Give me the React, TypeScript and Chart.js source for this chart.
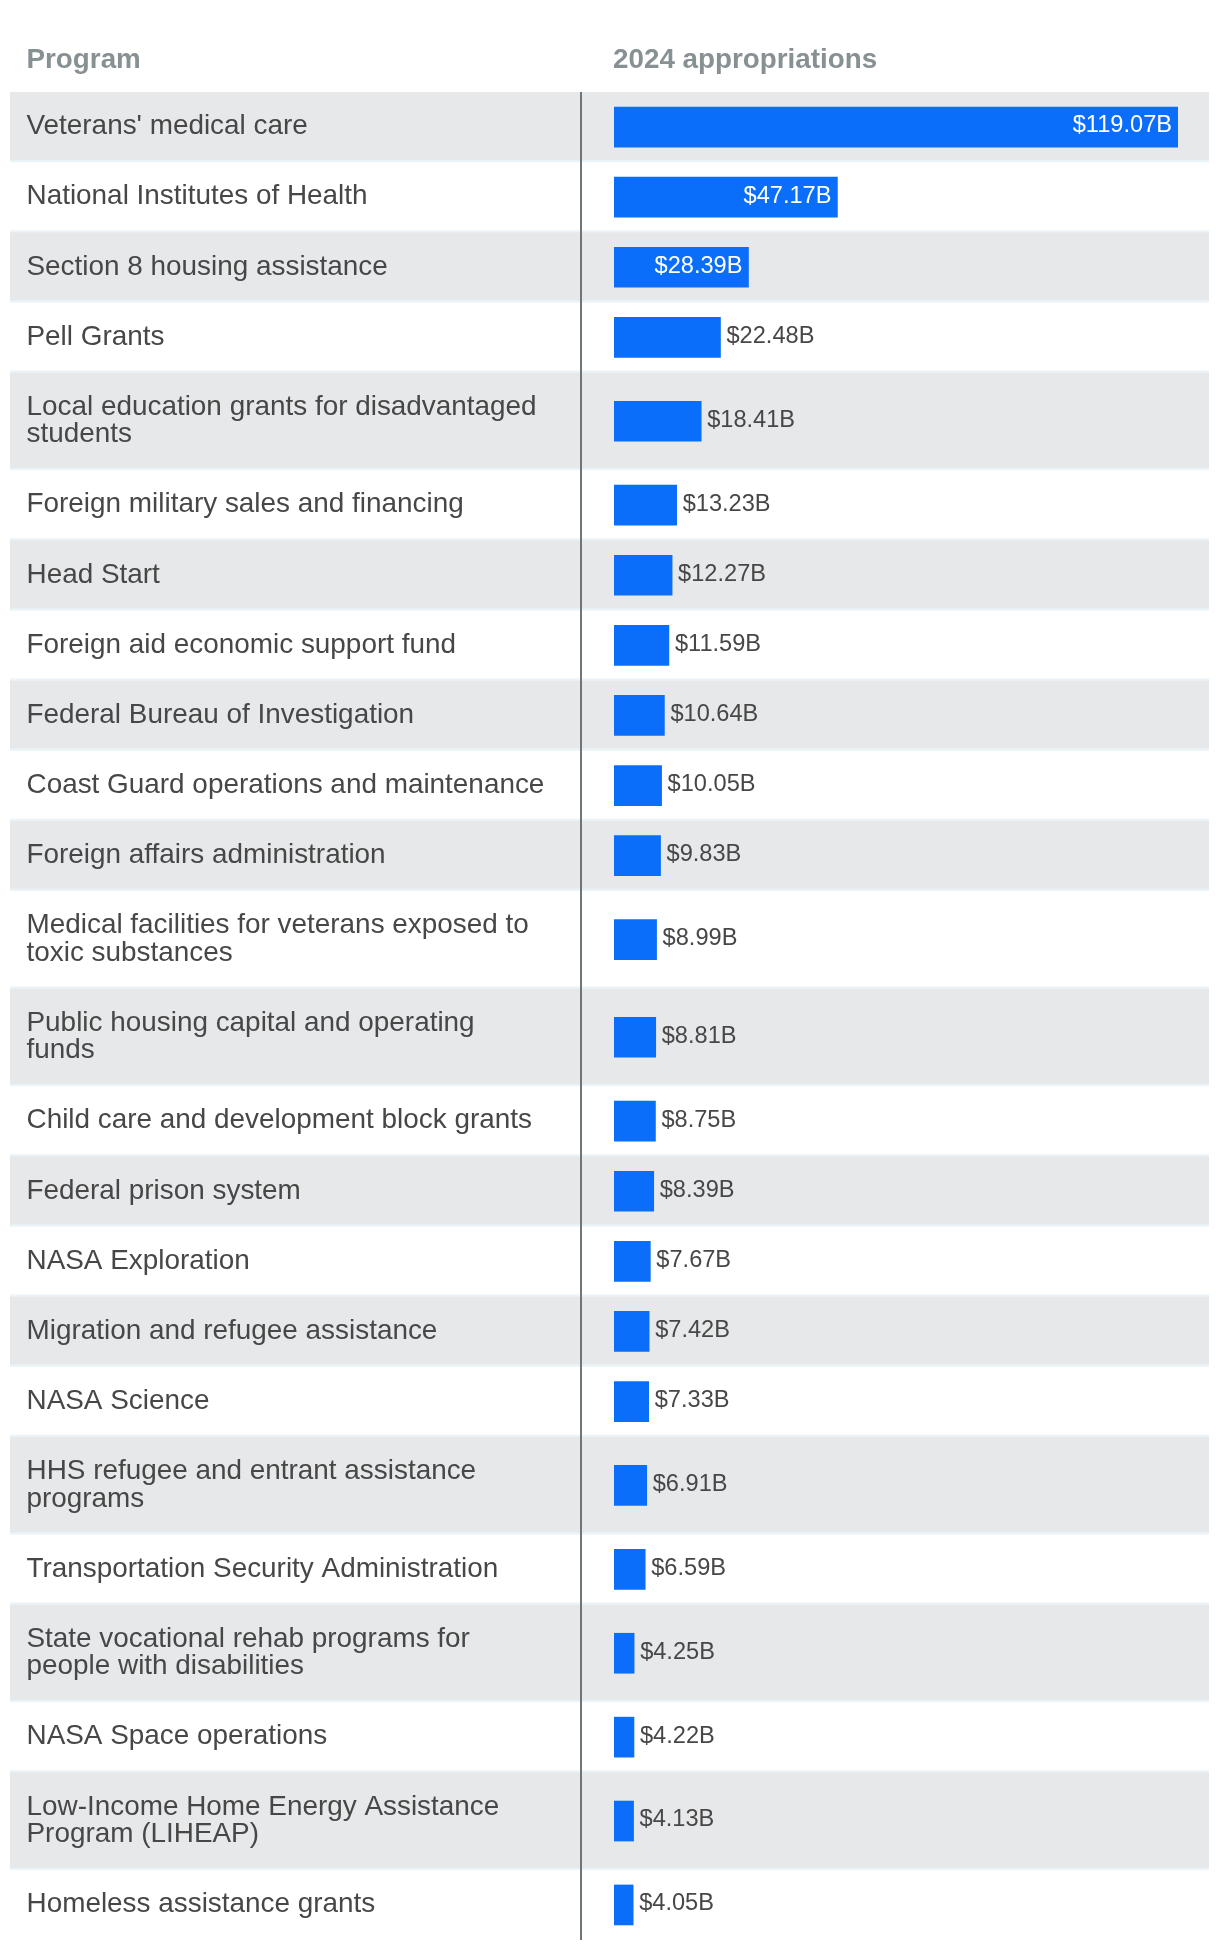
import React, { useEffect, useRef } from "react";
import { Chart, registerables } from "chart.js";

Chart.register(...registerables);

// ---- Data ----
const headerLabels: string[] = ["Program", "2024 appropriations"];

const programs: string[][] = [
  ["Veterans' medical care"],
  ["National Institutes of Health"],
  ["Section 8 housing assistance"],
  ["Pell Grants"],
  ["Local education grants for disadvantaged", "students"],
  ["Foreign military sales and financing"],
  ["Head Start"],
  ["Foreign aid economic support fund"],
  ["Federal Bureau of Investigation"],
  ["Coast Guard operations and maintenance"],
  ["Foreign affairs administration"],
  ["Medical facilities for veterans exposed to", "toxic substances"],
  ["Public housing capital and operating", "funds"],
  ["Child care and development block grants"],
  ["Federal prison system"],
  ["NASA Exploration"],
  ["Migration and refugee assistance"],
  ["NASA Science"],
  ["HHS refugee and entrant assistance", "programs"],
  ["Transportation Security Administration"],
  ["State vocational rehab programs for", "people with disabilities"],
  ["NASA Space operations"],
  ["Low-Income Home Energy Assistance", "Program (LIHEAP)"],
  ["Homeless assistance grants"],
];

const appropriations: number[] = [
  119.07, 47.17, 28.39, 22.48, 18.41, 13.23, 12.27, 11.59, 10.64, 10.05, 9.83,
  8.99, 8.81, 8.75, 8.39, 7.67, 7.42, 7.33, 6.91, 6.59, 4.25, 4.22, 4.13, 4.05,
];

// ---- Layout / style ----
const W = 1220;
const H = 1950;
const TABLE_TOP = 92;
const ROW_PAD = 21.25;
const LINE_H = 27.6;
const FONT = '"Liberation Sans", Arial, Helvetica, sans-serif';
const BAR_COLOR = "#0b6efa";
const ROW_GRAY = "#e7e8ea";
const ROW_BORDER = "#eaf4f9";
const TEXT_COLOR = "#474747";
const HEADER_COLOR = "#879193";
const DIVIDER_COLOR = "#6d7678";

const rowHeights = programs.map((l) => 2 * ROW_PAD + l.length * LINE_H);
const rowTops: number[] = [];
{
  let acc = 0;
  rowHeights.forEach((h) => {
    rowTops.push(acc);
    acc += h;
  });
}
const totalHeight = rowHeights.reduce((a, b) => a + b, 0);
const rowCenters = rowTops.map((t, i) => t + rowHeights[i] / 2);
const maxVal = Math.max(...appropriations);

const fmt = (v: number) => `$${v.toFixed(2)}B`;

const tablePlugin = {
  id: "tablePlugin",
  beforeDatasetsDraw(chart: any) {
    const ctx: CanvasRenderingContext2D = chart.ctx;
    const ys = chart.scales.y;
    ctx.save();
    ctx.textAlign = "left";
    ctx.textBaseline = "alphabetic";
    // header
    ctx.font = `bold 27.8px ${FONT}`;
    ctx.fillStyle = HEADER_COLOR;
    ctx.fillText(headerLabels[0], 26.5, 68);
    ctx.fillText(headerLabels[1], 613, 68);

    const n = programs.length;
    programs.forEach((lines, i) => {
      const top = ys.getPixelForValue(rowTops[i]);
      const bottom = ys.getPixelForValue(rowTops[i] + rowHeights[i]);
      if (i % 2 === 0) {
        ctx.fillStyle = ROW_GRAY;
        ctx.fillRect(10, top, 1199, bottom - top);
      }
      if (i < n - 1) {
        ctx.fillStyle = ROW_BORDER;
        ctx.fillRect(10, bottom - 2, 1199, 2);
      }
      ctx.fillStyle = TEXT_COLOR;
      ctx.font = `27.9px ${FONT}`;
      lines.forEach((ln, j) => {
        ctx.fillText(ln, 26.5, top + 42.3 + j * LINE_H);
      });
    });
    const t0 = ys.getPixelForValue(0);
    const t1 = ys.getPixelForValue(totalHeight);
    ctx.fillStyle = DIVIDER_COLOR;
    ctx.fillRect(580, t0, 2, t1 - t0);
    ctx.restore();
  },
  afterDatasetsDraw(chart: any) {
    const ctx: CanvasRenderingContext2D = chart.ctx;
    const meta = chart.getDatasetMeta(0);
    ctx.save();
    ctx.font = `23.6px ${FONT}`;
    ctx.textBaseline = "alphabetic";
    meta.data.forEach((el: any, i: number) => {
      const v = appropriations[i];
      const label = fmt(v);
      const inside = v / maxVal > 0.2;
      const yb = el.y + 5.4;
      if (inside) {
        ctx.fillStyle = "#ffffff";
        ctx.textAlign = "right";
        ctx.fillText(label, el.x - 6, yb);
      } else {
        ctx.fillStyle = TEXT_COLOR;
        ctx.textAlign = "left";
        ctx.fillText(label, el.x + 6, yb);
      }
    });
    ctx.restore();
  },
};

export default function App() {
  const ref = useRef<HTMLCanvasElement | null>(null);
  useEffect(() => {
    if (!ref.current) return;
    const chart = new Chart(ref.current, {
      type: "bar",
      data: {
        datasets: [
          {
            label: headerLabels[1],
            data: appropriations.map((v, i) => ({ x: v, y: rowCenters[i] })),
            backgroundColor: BAR_COLOR,
            borderWidth: 0,
            barThickness: 40,
          },
        ],
      },
      options: {
        indexAxis: "y",
        animation: false,
        responsive: false,
        devicePixelRatio: 1,
        layout: { padding: { left: 614, right: 42, top: TABLE_TOP, bottom: H - TABLE_TOP - totalHeight } },
        plugins: {
          legend: { display: false },
          tooltip: { enabled: false },
          title: { display: false },
        },
        scales: {
          x: { type: "linear", min: 0, max: maxVal, display: false, offset: false, grace: 0 },
          y: { type: "linear", min: 0, max: totalHeight, reverse: true, display: false, offset: false, grace: 0 },
        },
      } as any,
      plugins: [tablePlugin],
    });
    return () => chart.destroy();
  }, []);
  return (
    <div style={{ position: "absolute", left: 0, top: 0, width: W, height: H, background: "#ffffff" }}>
      <canvas ref={ref} width={W} height={H} style={{ width: W, height: H, display: "block" }} />
    </div>
  );
}
